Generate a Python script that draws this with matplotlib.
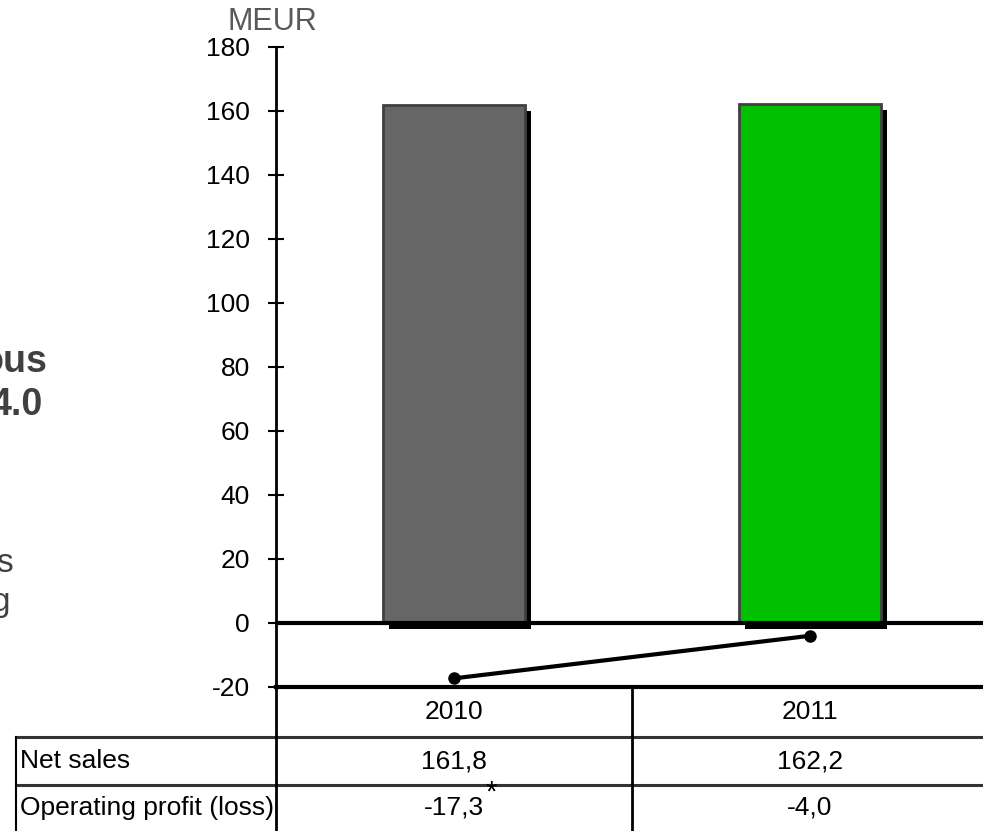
import matplotlib
matplotlib.use("Agg")
import matplotlib.pyplot as plt
import matplotlib.patheffects as pe
from matplotlib.lines import Line2D
from matplotlib.transforms import blended_transform_factory

# Data
years = ["2010", "2011"]
net_sales = [161.8, 162.2]
op_profit = [-17.3, -4.0]
row_labels = ["Net sales", "Operating profit (loss)"]
y_ticks = [-20, 0, 20, 40, 60, 80, 100, 120, 140, 160, 180]
bar_colors = ["#666666", "#00C000"]

SANS = ["Liberation Sans", "DejaVu Sans"]
FS = 19

W, H = 983, 831
fig = plt.figure(figsize=(W / 100, H / 100), dpi=100)


def fx(px):
    return px / W


def fy(py):
    return 1 - py / H


ax = fig.add_axes([fx(276), fy(687), 712 / W, 640 / H])
xs = list(range(len(years)))
ax.set_xlim(-0.5, 1.5)
ax.set_ylim(-20, 180)

bars = ax.bar(xs, net_sales, width=0.40, color=bar_colors,
              edgecolor="#404040", linewidth=2, zorder=3)
for b in bars:
    b.set_path_effects([pe.SimplePatchShadow(offset=(4.5, -4.5),
                                             shadow_rgbFace="black", alpha=1.0),
                        pe.Normal()])

ax.axhline(0, color="black", lw=3, zorder=4)
ax.plot(xs, op_profit, color="black", lw=3, marker="o", ms=8, zorder=5,
        solid_capstyle="round")

for s in ("top", "right"):
    ax.spines[s].set_visible(False)
ax.spines["left"].set_linewidth(2)
ax.spines["bottom"].set_linewidth(3)
ax.set_xticks([])
ax.set_yticks(y_ticks)
ax.set_yticklabels([str(t) for t in y_ticks], family=SANS, fontsize=FS)
ax.tick_params(axis="y", direction="inout", length=11.5, width=1.5, pad=13)

fig.text(fx(272), fy(22), "MEUR", ha="center", va="center", fontsize=22,
         color="#595959", family=SANS)

# Table below the axis
tx = blended_transform_factory(ax.transData, fig.transFigure)
for i, yr in enumerate(years):
    fig.text(i, fy(712), yr, transform=tx, ha="center", va="center",
             fontsize=FS, family=SANS)


def fmt(v):
    return f"{v:.1f}".replace(".", ",")


row_y = [761, 808]
for r, (lab, vals) in enumerate(zip(row_labels, [net_sales, op_profit])):
    fig.text(fx(20), fy(row_y[r]), lab, ha="left", va="center",
             fontsize=FS, family=SANS)
    for i, v in enumerate(vals):
        fig.text(i, fy(row_y[r]), fmt(v), transform=tx, ha="center",
                 va="center", fontsize=FS, family=SANS)

fig.text(0.087, fy(793), "*", transform=tx, ha="left", va="center",
         fontsize=21, family=SANS)

# grid lines of the table
for yy in (737, 785):
    fig.add_artist(Line2D([fx(16), 1.0], [fy(yy), fy(yy)], color="#333333",
                          lw=2.2))
fig.add_artist(Line2D([fx(16), fx(16)], [fy(737), 0], color="black", lw=1.5))
fig.add_artist(Line2D([fx(276), fx(276)], [fy(687), 0], color="black", lw=2))
fig.add_artist(Line2D([0.5, 0.5], [fy(687), 0], transform=tx,
                      color="black", lw=2))

# Fragments of neighbouring slide text at the left edge
GRAY = "#404040"
fig.text(fx(47), fy(362), "ous", ha="right", va="center", fontsize=27,
         weight="bold", color=GRAY, family=SANS)
fig.text(fx(43), fy(405), "4.0", ha="right", va="center", fontsize=27,
         weight="bold", color=GRAY, family=SANS)
fig.text(fx(13), fy(564), "s", ha="right", va="center", fontsize=24,
         color=GRAY, family=SANS)
fig.text(fx(10), fy(602), "g", ha="right", va="center", fontsize=24,
         color=GRAY, family=SANS)

fig.savefig("out.png", dpi=100)
